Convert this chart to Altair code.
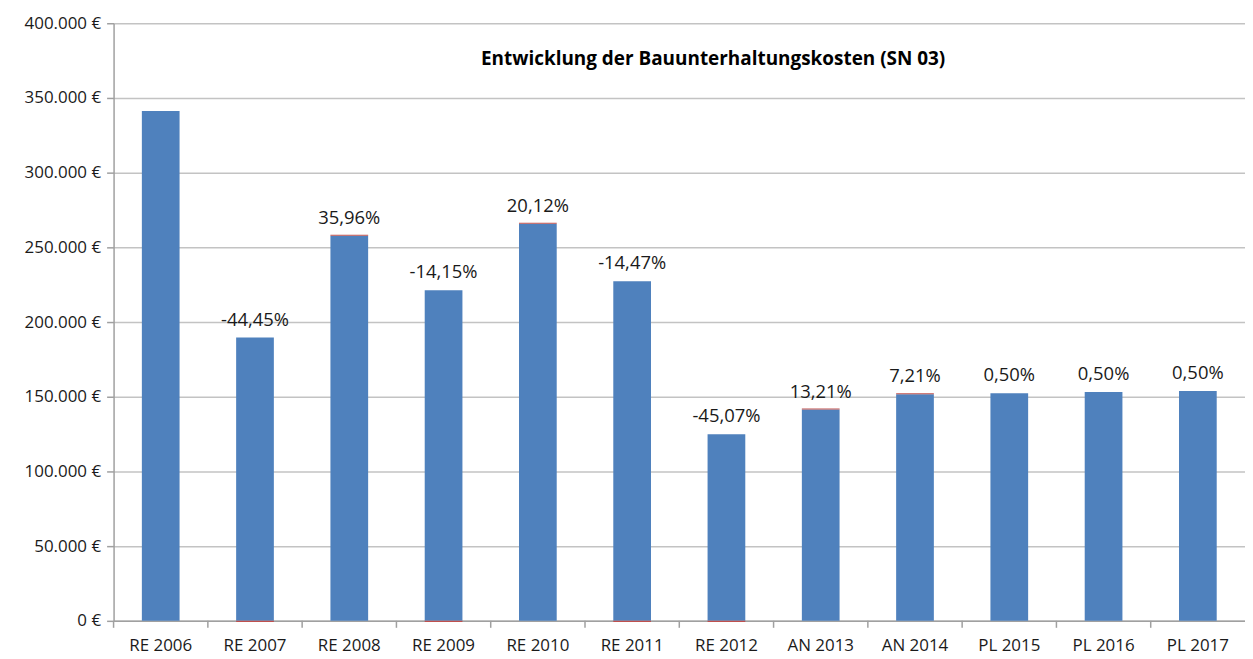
import altair as alt
import pandas as pd

categories = ["RE 2006", "RE 2007", "RE 2008", "RE 2009", "RE 2010", "RE 2011",
              "RE 2012", "AN 2013", "AN 2014", "PL 2015", "PL 2016", "PL 2017"]
costs = [341300, 189600, 257800, 221300, 265800, 227300,
         124900, 141400, 151600, 152300, 153100, 153900]
change_pct = [None, -44.45, 35.96, -14.15, 20.12, -14.47,
              -45.07, 13.21, 7.21, 0.50, 0.50, 0.50]
red_part = [0, -700, 700, -700, 700, -700, -700, 700, 700, 0, 0, 0]

def fmt_pct(p):
    if p is None:
        return ""
    return f"{p:.2f}%".replace(".", ",")

df = pd.DataFrame({
    "cat": categories,
    "cost": costs,
    "label": [fmt_pct(p) for p in change_pct],
    "red": red_part,
})
df["red_lo"] = [c if r > 0 else 0 for c, r in zip(df["cost"], df["red"])]
df["red_hi"] = [c + r if r > 0 else r for c, r in zip(df["cost"], df["red"])]

FONT = "Open Sans"
H = 600
W = 1136
STEP = W / len(categories)

xscale = alt.Scale(domain=categories, paddingInner=0.6, paddingOuter=0.3)
yscale = alt.Scale(domain=[0, 400000], nice=False)

x = alt.X("cat:N", scale=xscale, sort=categories, title=None,
          axis=alt.Axis(labelAngle=0, ticks=False))
y = alt.Y("cost:Q", scale=yscale, title=None,
          axis=alt.Axis(values=list(range(0, 400001, 50000)),
                        labelExpr="replace(format(datum.value, ',.0f'), ',', '.') + ' €'"))

bars = alt.Chart(df).mark_bar(color="#4F81BD").encode(x=x, y=y)

red = alt.Chart(df).transform_filter("datum.red != 0").mark_bar(color="#C0504D").encode(
    x=alt.X("cat:N", scale=xscale, sort=categories),
    y=alt.Y("red_lo:Q", scale=yscale),
    y2="red_hi:Q",
)

labels = alt.Chart(df).mark_text(baseline="bottom", dy=-8, fontSize=18.5, font=FONT,
                                 color="#1a1a1a").encode(
    x=alt.X("cat:N", scale=xscale, sort=categories),
    y=alt.Y("cost:Q", scale=yscale),
    text="label:N",
)

ticks = alt.Chart(df).mark_rule(color="#A0A0A0", strokeWidth=1.5, xOffset=-STEP / 2).encode(
    x=alt.X("cat:N", scale=xscale, sort=categories),
    y=alt.value(H),
    y2=alt.value(H + 7),
)

title = alt.Chart(pd.DataFrame({"t": ["Entwicklung der Bauunterhaltungskosten  (SN 03)"]})).mark_text(
    fontSize=19, fontWeight="bold", font=FONT, color="#000000", align="center", baseline="middle"
).encode(x=alt.value(602), y=alt.value(36), text="t:N")

chart = alt.layer(bars, red, ticks, labels, title).properties(
    width=W, height=H,
    autosize=alt.AutoSizeParams(type="none"),
    padding={"left": 106, "top": 14, "right": 0, "bottom": 37},
).configure_view(stroke=None).configure_axis(
    labelFontSize=17, labelFont=FONT, labelColor="#1a1a1a",
    domainColor="#A0A0A0", domainWidth=1.5,
    tickColor="#A0A0A0", tickSize=7, tickWidth=1.5,
    gridColor="#C3C3C3", gridWidth=1.5,
).configure_axisY(grid=True, labelPadding=6).configure_axisX(grid=False, labelPadding=17)

chart.save("out.html", embed_options={"renderer": "svg", "actions": False})
